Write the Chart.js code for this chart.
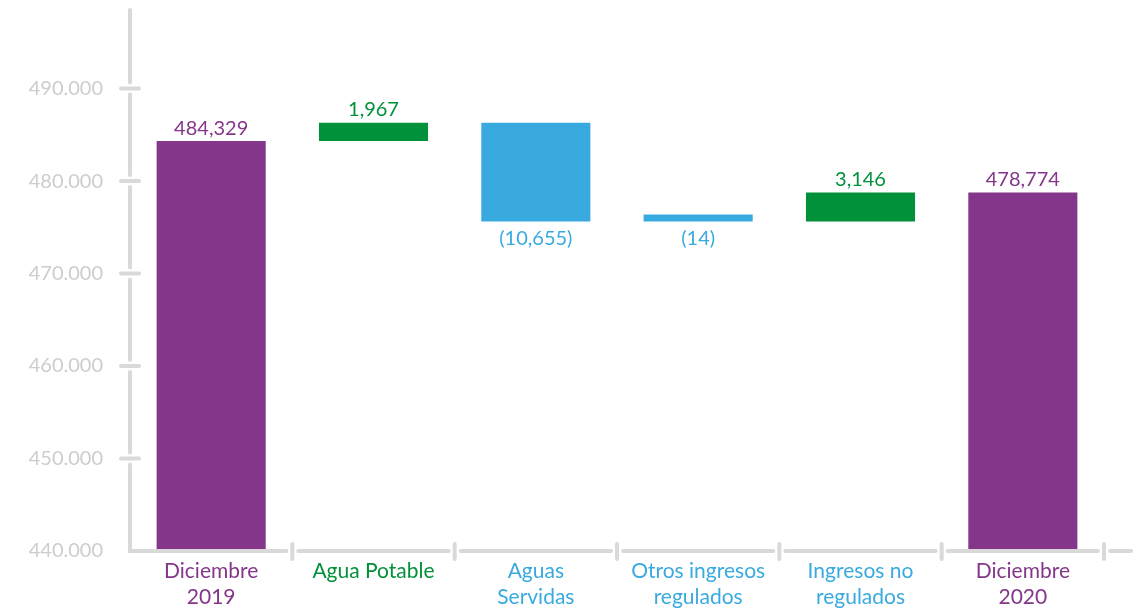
<!DOCTYPE html>
<html>
<head>
<meta charset="utf-8">
<script src="https://cdn.jsdelivr.net/npm/chart.js@4/dist/chart.umd.min.js"></script>
<style>
html,body{margin:0;padding:0;background:#fff;}
#wrap{width:1138px;height:611px;position:relative;}
</style>
</head>
<body>
<div id="wrap"><canvas id="c" width="1138" height="611"></canvas></div>
<script>
// ---- data ----
const categories = [['Diciembre','2019'], 'Agua Potable', ['Aguas','Servidas'], ['Otros ingresos','regulados'], ['Ingresos no','regulados'], ['Diciembre','2020']];
const kinds = ['total','delta','delta','delta','delta','total'];
const values = [484329, 1967, -10655, -14, 3146, 478774];
const valueLabels = ['484,329', '1,967', '(10,655)', '(14)', '3,146', '478,774'];
const yTicks = [440000, 450000, 460000, 470000, 480000, 490000];
const yMin = 440000, yMax = 498500;

// ---- colours ----
const PURPLE = '#84378A', GREEN = '#00913A', BLUE = '#39AADF', AXIS = '#D9D9D9', TICKTXT = '#CDCDCD';
const colorFor = (i) => kinds[i] === 'total' ? PURPLE : (values[i] >= 0 ? GREEN : BLUE);
const categoryColors = [PURPLE, GREEN, BLUE, BLUE, BLUE, PURPLE];

// floating bars built from values
let running = 0;
const floating = values.map((v, i) => {
  if (kinds[i] === 'total') { running = v; return [yMin, v]; }
  const s = running; running += v; return [s, running];
});
const colors = values.map((v, i) => colorFor(i));

const FONT = 'Lato, "Open Sans", sans-serif';

const axisPlugin = {
  id: 'axisPlugin',
  afterDraw(chart) {
    const ctx = chart.ctx, ca = chart.chartArea;
    const y = chart.scales.y, x = chart.scales.x;
    ctx.save();
    ctx.strokeStyle = AXIS; ctx.lineWidth = 4; ctx.lineCap = 'round';
    const ax = ca.left, ay = ca.bottom, gap = 6;
    // y axis segments with gaps at ticks
    const tickPx = yTicks.map(t => y.getPixelForValue(t)).filter(p => p < ay - 1).sort((a,b)=>a-b);
    let prev = ca.top;
    ctx.beginPath();
    tickPx.forEach(p => { ctx.moveTo(ax, prev); ctx.lineTo(ax, p - gap); prev = p + gap; });
    ctx.moveTo(ax, prev); ctx.lineTo(ax, ay); ctx.lineTo(ax + 1, ay);
    ctx.stroke();
    // y tick marks
    ctx.beginPath();
    tickPx.forEach(p => { ctx.moveTo(ax - 9, p); ctx.lineTo(ax + 9, p); });
    ctx.stroke();
    // x axis segments with gaps at category boundaries
    const n = categories.length;
    const step = x.getPixelForValue(1) - x.getPixelForValue(0);
    const bx = []; for (let i = 1; i <= n; i++) bx.push(x.getPixelForValue(i - 1) + step / 2);
    let px = ax;
    ctx.beginPath();
    bx.forEach(b => { ctx.moveTo(px, ay); ctx.lineTo(b - gap, ay); px = b + gap; });
    ctx.moveTo(px, ay); ctx.lineTo(ca.right + 27, ay);
    ctx.stroke();
    ctx.beginPath();
    bx.forEach(b => { ctx.moveTo(b, ay - 7); ctx.lineTo(b, ay + 8); });
    ctx.stroke();
    ctx.restore();
  }
};

const labelPlugin = {
  id: 'labelPlugin',
  afterDatasetsDraw(chart) {
    const ctx = chart.ctx;
    const meta = chart.getDatasetMeta(0);
    ctx.save();
    ctx.font = '20px ' + FONT;
    ctx.textAlign = 'center';
    meta.data.forEach((bar, i) => {
      const top = Math.min(bar.y, bar.base), bottom = Math.max(bar.y, bar.base);
      ctx.fillStyle = colors[i];
      if (values[i] >= 0) { ctx.textBaseline = 'bottom'; ctx.fillText(valueLabels[i], bar.x, top - 3); }
      else { ctx.textBaseline = 'top'; ctx.fillText(valueLabels[i], bar.x, bottom + 7); }
    });
    ctx.restore();
  }
};

new Chart(document.getElementById('c'), {
  type: 'bar',
  data: {
    labels: categories,
    datasets: [{ data: floating, backgroundColor: colors, borderWidth: 0, barPercentage: 0.672, categoryPercentage: 1, minBarLength: 7 }]
  },
  options: {
    responsive: false, animation: false, devicePixelRatio: 1,
    layout: { padding: { left: 0, right: 34, top: 10, bottom: 0 } },
    plugins: { legend: { display: false }, tooltip: { enabled: false } },
    scales: {
      x: {
        grid: { display: false, drawTicks: false }, border: { display: false },
        ticks: { padding: 7, font: { family: FONT, size: 21, lineHeight: 1.25 }, color: (c) => categoryColors[c.index] },
        afterFit(s) { s.height = 60; s.paddingLeft = 0; s.paddingRight = 0; }
      },
      y: {
        min: yMin, max: yMax,
        grid: { display: false, drawTicks: false }, border: { display: false },
        afterBuildTicks(s) { s.ticks = yTicks.map(v => ({ value: v })); },
        ticks: { padding: 27, font: { family: FONT, size: 20 }, color: TICKTXT,
          callback: (v) => (v / 1000).toFixed(3) },
        afterFit(s) { s.width = 130; s.paddingTop = 0; s.paddingBottom = 0; }
      }
    }
  },
  plugins: [axisPlugin, labelPlugin]
});
</script>
</body>
</html>
